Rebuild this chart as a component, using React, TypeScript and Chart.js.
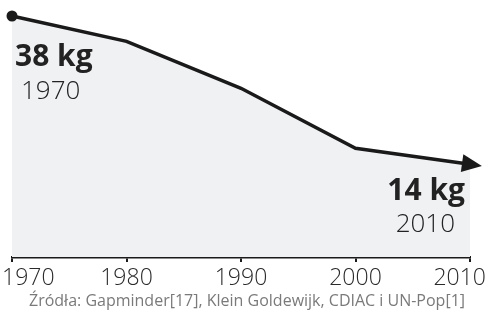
import React, { useEffect, useRef } from "react";
import { Chart, registerables } from "chart.js";

Chart.register(...registerables);

const years = [1970, 1980, 1990, 2000, 2010];
const kgPerPerson = [38, 33.9, 26.3, 16.6, 14];
const tickYears = [1970, 1980, 1990, 2000, 2010];
const startLabel = { value: "38 kg", year: "1970" };
const endLabel = { value: "14 kg", year: "2010" };
const sourceText = "Źródła: Gapminder[17], Klein Goldewijk, CDIAC i UN-Pop[1]";

const FONT = '"Open Sans", "DejaVu Sans", sans-serif';

const overlayPlugin = {
  id: "overlay",
  afterDatasetsDraw(chart: any) {
    const ctx = chart.ctx;
    const meta = chart.getDatasetMeta(0);
    const pts = meta.data;
    const p0 = pts[pts.length - 2];
    const p1 = pts[pts.length - 1];
    const dx = p1.x - p0.x;
    const dy = p1.y - p0.y;
    const len = Math.hypot(dx, dy);
    const ux = dx / len, uy = dy / len;
    const tipX = p1.x + ux * 12, tipY = p1.y + uy * 12;
    const bx = p1.x - ux * 8, by = p1.y - uy * 8;
    const hw = 9;
    ctx.save();
    ctx.fillStyle = "#1a1a1a";
    ctx.beginPath();
    ctx.moveTo(tipX, tipY);
    ctx.lineTo(bx - uy * hw, by + ux * hw);
    ctx.lineTo(bx + uy * hw, by - ux * hw);
    ctx.closePath();
    ctx.fill();
    ctx.restore();
  },
  afterDraw(chart: any) {
    const ctx = chart.ctx;
    const xs = chart.scales.x;
    const W = chart.width;
    ctx.save();
    ctx.font = `300 23px ${FONT}`;
    ctx.fillStyle = "#2a2a2a";
    ctx.textBaseline = "alphabetic";
    ctx.textAlign = "left";
    for (const y of tickYears) {
      const px = xs.getPixelForValue(y);
      const t = String(y);
      const w = ctx.measureText(t).width;
      let left = px - w / 2;
      if (left < 2) left = 2;
      if (left + w > W - 4) left = W - 4 - w;
      ctx.fillText(t, left, 285);
    }
    const first = chart.getDatasetMeta(0).data[0];
    const last = chart.getDatasetMeta(0).data[years.length - 1];
    ctx.fillStyle = "#222";
    ctx.font = `bold 30px ${FONT}`;
    ctx.textAlign = "left";
    ctx.fillText(startLabel.value, first.x + 3, 66);
    ctx.font = `300 26px ${FONT}`;
    ctx.fillText(startLabel.year, first.x + 9, 99);
    ctx.textAlign = "right";
    ctx.font = `bold 30px ${FONT}`;
    ctx.fillText(endLabel.value, last.x - 5, 200);
    ctx.font = `300 26px ${FONT}`;
    ctx.fillText(endLabel.year, last.x - 15, 232);
    ctx.textAlign = "center";
    ctx.font = `16px ${FONT}`;
    ctx.fillStyle = "#7a7a7a";
    ctx.fillText(sourceText, 247, 306);
    ctx.restore();
  },
};

export default function App() {
  const ref = useRef<HTMLCanvasElement>(null);
  useEffect(() => {
    if (!ref.current) return;
    const chart = new Chart(ref.current, {
      type: "line",
      data: {
        datasets: [
          {
            data: years.map((y, i) => ({ x: y, y: kgPerPerson[i] })),
            borderColor: "#1a1a1a",
            borderWidth: 3.5,
            backgroundColor: "#f0f1f3",
            fill: "start",
            tension: 0,
            pointRadius: years.map((_, i) => (i === 0 ? 5.5 : 0)),
            pointBackgroundColor: "#1a1a1a",
            pointBorderWidth: 0,
            clip: false as any,
          },
        ],
      },
      options: {
        responsive: false,
        animation: false,
        events: [],
        layout: { padding: { left: 12, right: 20, top: 16, bottom: 51 } },
        plugins: { legend: { display: false }, tooltip: { enabled: false } },
        scales: {
          x: {
            type: "linear",
            min: 1970,
            max: 2010,
            afterBuildTicks: (s: any) => {
              s.ticks = tickYears.map((v) => ({ value: v }));
            },
            grid: {
              display: true,
              drawOnChartArea: false,
              drawTicks: true,
              tickLength: 5,
              color: "#1a1a1a",
              lineWidth: 2,
            },
            border: { display: true, color: "#1a1a1a", width: 2.5 },
            ticks: { display: false },
          },
          y: {
            display: false,
            min: -1,
            max: 38,
          },
        },
      },
      plugins: [overlayPlugin],
    });
    return () => chart.destroy();
  }, []);
  return (
    <div style={{ position: "absolute", left: 0, top: 0, width: 490, height: 313, background: "#fff" }}>
      <canvas ref={ref} width={490} height={313} />
    </div>
  );
}
